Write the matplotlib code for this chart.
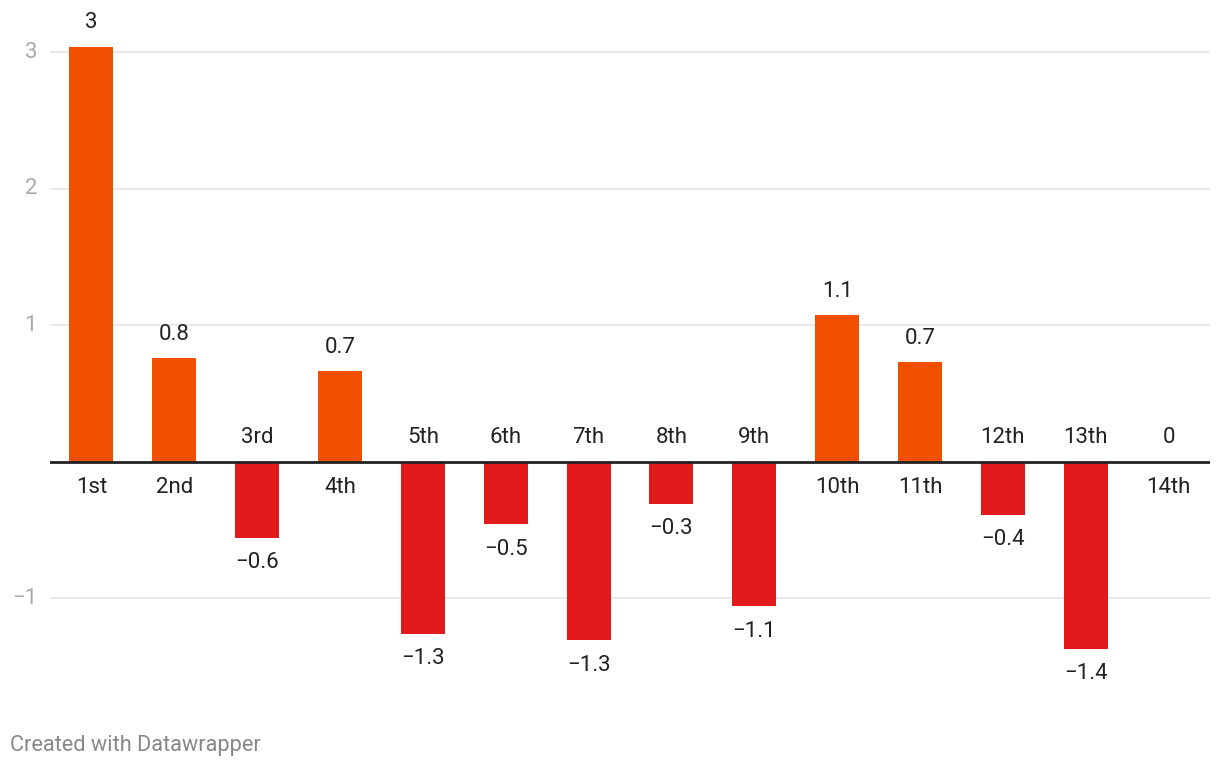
import matplotlib.pyplot as plt
import matplotlib.transforms as mtransforms
import numpy as np

plt.rcParams['font.family'] = ['Roboto', 'DejaVu Sans']

# DATA
categories = ['1st', '2nd', '3rd', '4th', '5th', '6th', '7th', '8th', '9th',
              '10th', '11th', '12th', '13th', '14th']
values = [3.04, 0.76, -0.56, 0.66, -1.26, -0.46, -1.31, -0.31, -1.06,
          1.07, 0.73, -0.39, -1.37, 0.0]
value_labels = ['3', '0.8', '\u22120.6', '0.7', '\u22121.3', '\u22120.5', '\u22121.3',
                '\u22120.3', '\u22121.1', '1.1', '0.7', '\u22120.4', '\u22121.4', '0']
yticks = [3, 2, 1, -1]
ytick_labels = ['3', '2', '1', '\u22121']

ORANGE = '#f05000'
RED = '#e31a1c'
TXT = '#222222'
FS = 16

fig = plt.figure(figsize=(12.2, 7.68), dpi=100)
ax = fig.add_axes([50/1220, 1 - 700.4/768, 1160/1220, (700.4 - 24.7)/768])

x = np.arange(len(categories))
colors = [ORANGE if v >= 0 else RED for v in values]
ax.bar(x, values, width=0.53, color=colors, zorder=2)

ax.set_xlim(-0.5, len(categories) - 0.5)
ax.set_ylim(-1.75, 3.2)

# gridlines + zero line
for t in yticks:
    ax.axhline(t, color='#e3e3e3', lw=1.1, zorder=0)
ax.axhline(0, color='#222222', lw=2, zorder=3)

ax.set_xticks([])
ax.set_yticks([])
for s in ax.spines.values():
    s.set_visible(False)

# y tick labels, right edge at ~36px
trans = mtransforms.blended_transform_factory(fig.transFigure, ax.transData)
for t, lab in zip(yticks, ytick_labels):
    ax.text(37/1220, t, lab, ha='right', va='center', fontsize=FS,
            color='#aaaaaa', transform=trans, clip_on=False)

for i, (v, vl, c) in enumerate(zip(values, value_labels, categories)):
    if v >= 0:
        ax.annotate(vl, (i, v), xytext=(0, 17), textcoords='offset points',
                    ha='center', va='center', fontsize=FS, color=TXT)
        ax.annotate(c, (i, 0), xytext=(0, -19), textcoords='offset points',
                    ha='center', va='center', fontsize=FS, color=TXT)
    else:
        ax.annotate(vl, (i, v), xytext=(0, -18), textcoords='offset points',
                    ha='center', va='center', fontsize=FS, color=TXT)
        ax.annotate(c, (i, 0), xytext=(0, 17), textcoords='offset points',
                    ha='center', va='center', fontsize=FS, color=TXT)

fig.text(10/1220, 1 - 745/768, 'Created with Datawrapper', ha='left', va='center',
         fontsize=15.7, color='#888888')

fig.savefig('out.png', dpi=100)
